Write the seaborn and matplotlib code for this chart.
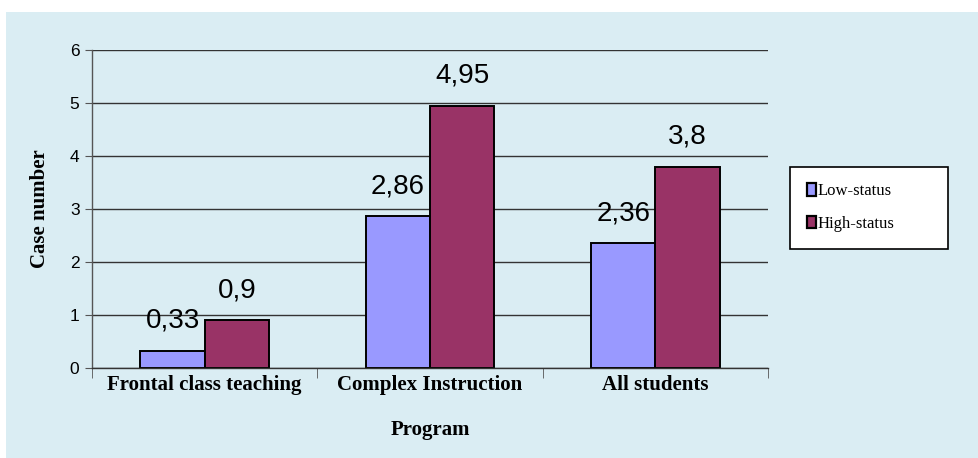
import matplotlib
matplotlib.use("Agg")
import matplotlib.pyplot as plt
import matplotlib.patches as mpatches
import seaborn as sns
import pandas as pd

categories = ["Frontal class teaching", "Complex Instruction", "All students"]
series = ["Low-status", "High-status"]
low_values = [0.33, 2.86, 2.36]
high_values = [0.9, 4.95, 3.8]
value_labels_low = ["0,33", "2,86", "2,36"]
value_labels_high = ["0,9", "4,95", "3,8"]
y_ticks = [0, 1, 2, 3, 4, 5, 6]

colors = {"Low-status": "#9999FF", "High-status": "#993366"}
panel_color = "#DAEDF3"

df = pd.DataFrame({
    "Program": categories * 2,
    "Status": [series[0]] * 3 + [series[1]] * 3,
    "Value": low_values + high_values,
})

sns.set_style("white")
plt.rcParams["font.family"] = ["Liberation Sans", "DejaVu Sans"]
plt.rcParams["text.color"] = "black"
plt.rcParams["axes.labelcolor"] = "black"
plt.rcParams["xtick.color"] = "black"
plt.rcParams["ytick.color"] = "black"

fig = plt.figure(figsize=(9.79, 4.58), dpi=100)
fig.patch.set_facecolor("white")
fig.patches.append(mpatches.Rectangle((6 / 979, 0), 1 - 6 / 979, (458 - 12) / 458,
                                      transform=fig.transFigure, facecolor=panel_color,
                                      edgecolor="none", zorder=-10))

ax = fig.add_axes([92 / 979, (458 - 368) / 458, (768 - 92) / 979, (368 - 50) / 458])
ax.patch.set_alpha(0)

sns.barplot(data=df, x="Program", y="Value", hue="Status", order=categories,
            hue_order=series, palette=colors, width=0.57, edgecolor="black",
            linewidth=1.4, saturation=1, ax=ax, legend=False, errorbar=None)

ax.set_ylim(0, 6)
ax.set_xlim(-0.5, 2.5)
ax.set_yticks(y_ticks)
ax.set_yticklabels([str(t) for t in y_ticks], fontsize=12.5)
ax.yaxis.grid(True, color="#333333", linewidth=1)
ax.set_axisbelow(True)

for s in ["top", "right"]:
    ax.spines[s].set_visible(False)
ax.spines["left"].set_color("#555555")
ax.spines["bottom"].set_color("#333333")
ax.spines["left"].set_linewidth(1)
ax.spines["bottom"].set_linewidth(1)

ax.tick_params(axis="y", length=5, color="#555555", pad=4, direction="out", left=True)
ax.set_xticks([0, 1, 2])
ax.set_xticklabels(categories, fontsize=15, fontweight="bold", family="Liberation Serif")
ax.tick_params(axis="x", length=0, pad=5)
ax.set_xticks([-0.5, 0.5, 1.5, 2.5], minor=True)
ax.tick_params(axis="x", which="minor", length=7, color="#555555", bottom=True)

for cont, labels in zip(ax.containers, [value_labels_low, value_labels_high]):
    ax.bar_label(cont, labels=labels, padding=12, fontsize=20, family="Liberation Sans",
                 color="black")

ax.set_xlabel("Program", fontsize=15, fontweight="bold", family="Liberation Serif", labelpad=18)
ax.set_ylabel("Case number", fontsize=15, fontweight="bold", family="Liberation Serif", labelpad=14)

handles = [mpatches.Patch(facecolor=colors[s], edgecolor="black", linewidth=1.6, label=s)
           for s in series]
leg = fig.legend(handles=handles, loc="upper left",
                 bbox_to_anchor=(790 / 979, (458 - 167) / 458, 158 / 979, 0.001),
                 mode="expand",
                 prop={"family": "Liberation Serif", "size": 12},
                 frameon=True, fancybox=False, edgecolor="black", facecolor="white",
                 handlelength=0.55, handleheight=0.75, handletextpad=0.1,
                 borderpad=1.0, labelspacing=1.0, borderaxespad=0)
leg.get_frame().set_linewidth(1.2)
leg.get_frame().set_alpha(1)

fig.savefig("out.png", dpi=100, facecolor=fig.get_facecolor())
